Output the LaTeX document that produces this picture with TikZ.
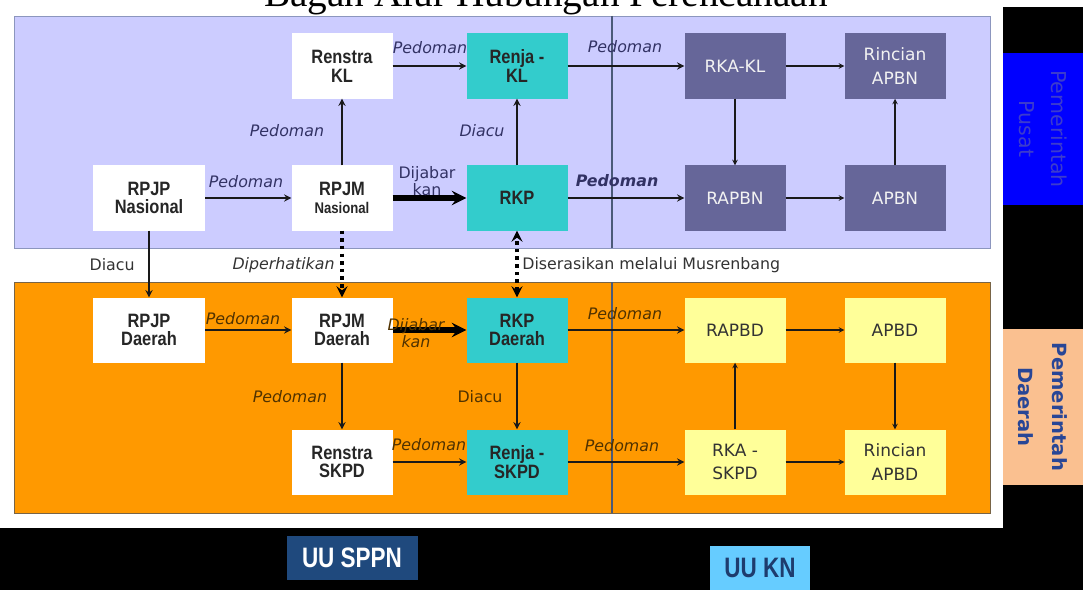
\documentclass[tikz,border=0pt]{standalone}
\usepackage{fontspec}
\usepackage{xcolor}
\setmainfont{DejaVu Sans}
\newfontfamily\judulfont{Liberation Serif}
\newfontfamily\kotakfont[FakeStretch=0.85]{Liberation Sans}
\newfontfamily\uufont[FakeStretch=0.8]{Liberation Sans}
\usetikzlibrary{
    arrows,
    shapes
}

\definecolor{ungu}{RGB}{204,204,255}
\definecolor{garisungu}{RGB}{140,150,190}
\definecolor{jingga}{RGB}{255,153,0}
\definecolor{garisjingga}{RGB}{120,100,70}
\definecolor{toska}{RGB}{51,204,204}
\definecolor{abuungu}{RGB}{102,102,153}
\definecolor{kuning}{RGB}{255,255,153}
\definecolor{biru}{RGB}{0,0,255}
\definecolor{birumuda}{RGB}{60,60,205}
\definecolor{persik}{RGB}{250,192,144}
\definecolor{birutua}{RGB}{40,70,150}
\definecolor{sppn}{RGB}{31,73,125}
\definecolor{kn}{RGB}{102,204,255}
\definecolor{knteks}{RGB}{30,60,110}
\definecolor{teksatas}{RGB}{50,50,100}
\definecolor{teksbawah}{RGB}{80,50,0}
\definecolor{pemisah}{RGB}{75,90,120}

\begin{document}
\begin{tikzpicture}[x=0.03cm, y=-0.03cm,
    kotak/.style={minimum width=3.03cm, minimum height=1.95cm, align=center, inner sep=1pt,
        font=\kotakfont\bfseries\fontsize{16.5}{16}\selectfont, text=black!85},
    rencana/.style={kotak, fill=white},
    kerja/.style={kotak, fill=toska},
    anggaranpusat/.style={kotak, fill=abuungu, text=white!95!black, font=\fontsize{14.5}{20}\selectfont},
    anggarandaerah/.style={kotak, fill=kuning, text=black!80, font=\fontsize{14.5}{20}\selectfont},
    ket/.style={font=\fontsize{13.5}{15}\selectfont, inner sep=1pt, align=center},
    miring/.style={ket, font=\fontsize{13.5}{15}\selectfont\itshape},
    alur/.style={->, >=stealth, line width=1.7pt, black!90},
    alurtipis/.style={->, >=stealth, line width=1.1pt, black!90},
    alurtebal/.style={->, >=stealth, line width=4.3pt, black},
    alurtitik/.style={>=stealth, line width=3pt, dash pattern=on 3pt off 3.5pt, black}
]
    \useasboundingbox (0,0) rectangle (1083,590);
    \fill[white] (0,0) rectangle (1083,590);
    \fill[black] (1003,7) rectangle (1083,590);
    \fill[black] (0,528) rectangle (1083,590);
    \filldraw[fill=ungu, draw=garisungu, line width=0.8pt] (14,16) rectangle (990,248);
    \filldraw[fill=jingga, draw=garisjingga, line width=0.8pt] (14,282) rectangle (990,513);
    \draw[pemisah, line width=1.2pt] (612,16) -- (612,248);
    \draw[pemisah, line width=1.2pt] (612,282) -- (612,513);

    \node[font=\judulfont\fontsize{33.5}{36}\selectfont, anchor=base, inner sep=0pt] (judul) at (546,7) {Bagan Alur Hubungan Perencanaan};

    \node[rencana] (renstraKL) at (342,66) {Renstra\\KL};
    \node[kerja] (renjaKL) at (517,66) {Renja -\\KL};
    \node[anggaranpusat] (rkaKL) at (735,66) {RKA-KL};
    \node[anggaranpusat] (rincianAPBN) at (895,66) {Rincian\\APBN};

    \node[rencana, minimum width=3.36cm] (rpjpN) at (149,198) {RPJP\\Nasional};
    \node[rencana] (rpjmN) at (342,198) {RPJM\\{\fontsize{13.2}{14}\selectfont Nasional}};
    \node[kerja] (rkp) at (517,198) {RKP};
    \node[anggaranpusat] (rapbn) at (735,198) {RAPBN};
    \node[anggaranpusat] (apbn) at (895,198) {APBN};

    \node[rencana, minimum width=3.36cm] (rpjpD) at (149,330) {RPJP\\Daerah};
    \node[rencana] (rpjmD) at (342,330) {RPJM\\Daerah};
    \node[kerja] (rkpD) at (517,330) {RKP\\Daerah};
    \node[anggarandaerah] (rapbd) at (735,330) {RAPBD};
    \node[anggarandaerah] (apbd) at (895,330) {APBD};

    \node[rencana] (renstraSKPD) at (342,462) {Renstra\\SKPD};
    \node[kerja] (renjaSKPD) at (517,462) {Renja -\\SKPD};
    \node[anggarandaerah] (rkaSKPD) at (735,462) {RKA -\\SKPD};
    \node[anggarandaerah] (rincianAPBD) at (895,462) {Rincian\\APBD};

    \draw[alur] (renstraKL) -- (renjaKL);
    \draw[alur] (renjaKL) -- (rkaKL);
    \draw[alurtipis] (rkaKL) -- (rincianAPBN);
    \draw[alurtipis] (rkaKL) -- (rapbn);
    \draw[alur] (rkp) -- (rapbn);
    \draw[alurtipis] (rapbn) -- (apbn);
    \draw[alurtipis] (apbn) -- (rincianAPBN);

    \draw[alur] (rpjpN) -- (rpjmN);
    \draw[alur] (rpjmN) -- (renstraKL);
    \draw[alurtebal] (rpjmN) -- (rkp);
    \draw[alur] (rkp) -- (renjaKL);

    \draw[alur] (rpjpN) -- (rpjpD);
    \draw[alurtitik, ->] (rpjmN) -- (rpjmD);
    \draw[alurtitik, <->] (rkpD) -- (rkp);

    \draw[alur] (rpjpD) -- (rpjmD);
    \draw[alurtebal] (rpjmD) -- (rkpD);
    \draw[alur] (rpjmD) -- (renstraSKPD);
    \draw[alur] (rkpD) -- (renjaSKPD);
    \draw[alur] (renstraSKPD) -- (renjaSKPD);
    \draw[alur] (rkpD) -- (rapbd);
    \draw[alur] (renjaSKPD) -- (rkaSKPD);
    \draw[alurtipis] (rapbd) -- (apbd);
    \draw[alurtipis] (rkaSKPD) -- (rapbd);
    \draw[alurtipis] (apbd) -- (rincianAPBD);
    \draw[alurtipis] (rkaSKPD) -- (rincianAPBD);

    \node[miring, text=teksatas] (pedoman1) at (430,48) {Pedoman};
    \node[miring, text=teksatas] (pedoman2) at (625,47) {Pedoman};
    \node[miring, text=teksatas, font=\fontsize{13.5}{15}\selectfont\bfseries\itshape] (pedoman3) at (617,181) {Pedoman};
    \node[miring, text=teksatas] (pedoman4) at (246,182) {Pedoman};
    \node[miring, text=teksatas] (pedoman5) at (287,131) {Pedoman};
    \node[ket, text=teksatas] (dijabar1) at (427,181) {Dijabar\\kan};
    \node[miring, text=teksatas] (diacu1) at (482,131) {Diacu};

    \node[ket, text=black!80, anchor=east] (diacu2) at (136,265) {Diacu};
    \node[miring, text=black!80, anchor=east] (diperhatikan) at (336,265) {Diperhatikan};
    \node[ket, text=black!80, anchor=west] (diserasikan) at (521,265) {Diserasikan melalui Musrenbang};

    \node[miring, text=teksbawah] (pedoman6) at (243,319) {Pedoman};
    \node[miring, text=teksbawah] (dijabar2) at (416,333) {Dijabar\\kan};
    \node[miring, text=teksbawah] (pedoman7) at (290,397) {Pedoman};
    \node[ket, text=teksbawah] (diacu3) at (480,397) {Diacu};
    \node[miring, text=teksbawah] (pedoman8) at (429,445) {Pedoman};
    \node[miring, text=teksbawah] (pedoman9) at (625,314) {Pedoman};
    \node[miring, text=teksbawah] (pedoman10) at (622,446) {Pedoman};

    \node[fill=biru, text=birumuda, rotate=-90, align=center, minimum width=4.56cm, minimum height=2.4cm,
        font=\fontsize{17.5}{27}\selectfont] (pusat) at (1043,129) {Pemerintah\\Pusat};
    \node[fill=persik, text=birutua, rotate=-90, align=center, minimum width=4.65cm, minimum height=2.4cm,
        font=\bfseries\fontsize{16.7}{29}\selectfont] (daerah) at (1043,407) {Pemerintah\\Daerah};

    \node[fill=sppn, text=white, font=\uufont\bfseries\fontsize{24}{24}\selectfont,
        minimum width=3.93cm, minimum height=1.32cm] (uusppn) at (352,558) {UU SPPN};
    \node[fill=kn, text=knteks, font=\uufont\bfseries\fontsize{24}{24}\selectfont,
        minimum width=3cm, minimum height=1.32cm] (uukn) at (760,568) {UU KN};
\end{tikzpicture}
\end{document}
